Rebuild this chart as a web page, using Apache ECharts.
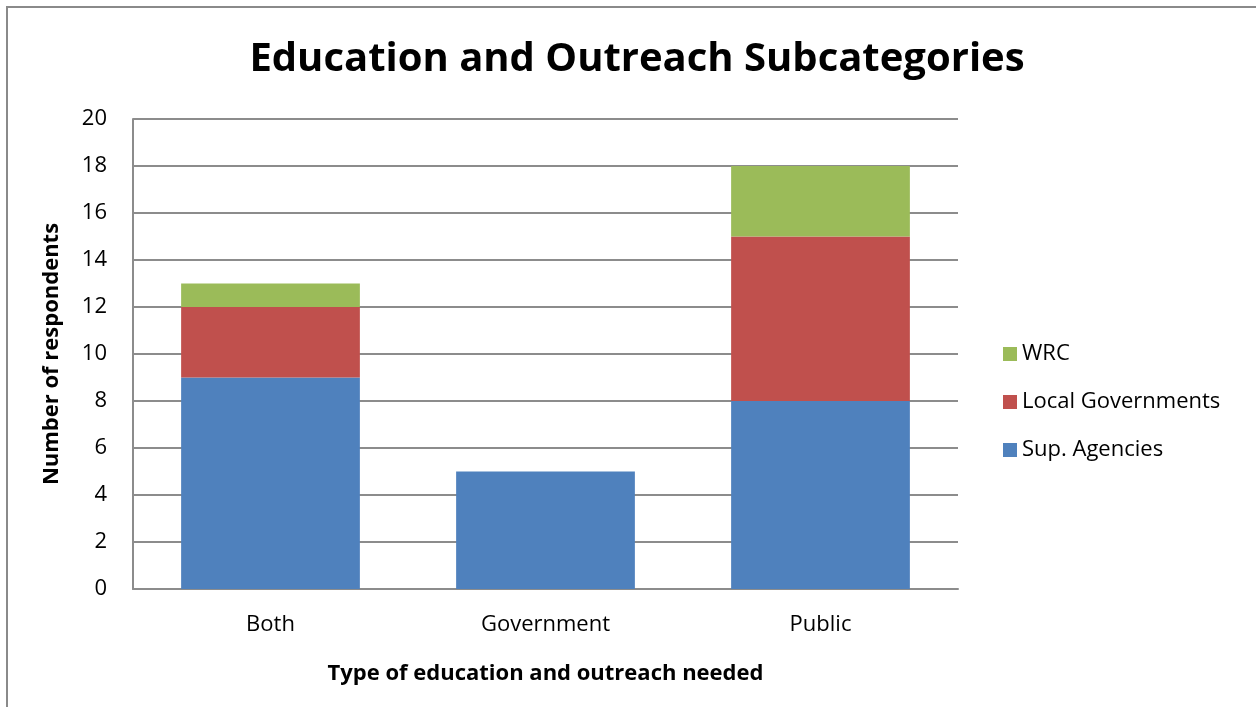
<!DOCTYPE html>
<html>
<head>
<meta charset="utf-8">
<script src="https://cdn.jsdelivr.net/npm/echarts@6/dist/echarts.min.js"></script>
<style>
  html, body { margin: 0; padding: 0; background: #fff; }
  #chart { width: 1256px; height: 707px; }
</style>
</head>
<body>
<div id="chart"></div>
<script>
// Survey responses by type of education / outreach needed
const categories = ['Both', 'Government', 'Public'];
const supAgencies = [9, 5, 8];
const localGovernments = [3, 0, 7];
const wrc = [1, 0, 3];
const legendOrder = ['WRC', 'Local Governments', 'Sup. Agencies'];

const FONT = '"Open Sans", Lato, sans-serif';

const chart = echarts.init(document.getElementById('chart'));
chart.setOption({
  animation: false,
  backgroundColor: '#fff',
  title: {
    text: 'Education and Outreach Subcategories',
    left: 632,
    textAlign: 'center',
    top: 35,
    textStyle: { fontFamily: FONT, fontSize: 40, fontWeight: 'bold', color: '#000' }
  },
  graphic: [{
    type: 'rect',
    shape: { x: 7, y: 7, width: 1300, height: 800 },
    style: { fill: 'none', stroke: '#8a8a8a', lineWidth: 2 },
    silent: true
  }],
  legend: {
    data: legendOrder,
    orient: 'vertical',
    left: 998,
    top: 338,
    itemWidth: 14,
    itemHeight: 14,
    itemGap: 26,
    icon: 'rect',
    textStyle: { fontFamily: FONT, fontSize: 22, color: '#000' }
  },
  grid: { left: 133, right: 298, top: 119, bottom: 118 },
  xAxis: {
    type: 'category',
    data: categories,
    name: 'Type of education and outreach needed',
    nameLocation: 'middle',
    nameGap: 74,
    nameTextStyle: { fontFamily: FONT, fontSize: 22, fontWeight: 'bold', color: '#000' },
    axisLine: { lineStyle: { color: '#8c8c8c', width: 2 } },
    axisTick: { show: false },
    axisLabel: { fontFamily: FONT, fontSize: 22, color: '#000', margin: 25 }
  },
  yAxis: {
    type: 'value',
    min: 0,
    max: 20,
    interval: 2,
    name: 'Number of respondents',
    nameLocation: 'middle',
    nameGap: 70,
    nameTextStyle: { fontFamily: FONT, fontSize: 22, fontWeight: 'bold', color: '#000' },
    axisLine: { show: true, lineStyle: { color: '#8c8c8c', width: 2 } },
    axisTick: { show: false },
    splitLine: { lineStyle: { color: '#8c8c8c', width: 2 } },
    axisLabel: { fontFamily: FONT, fontSize: 22, color: '#000', margin: 26 }
  },
  series: [
    { name: 'Sup. Agencies', type: 'bar', stack: 'total', data: supAgencies, barCategoryGap: '35%', itemStyle: { color: '#4F81BD' } },
    { name: 'Local Governments', type: 'bar', stack: 'total', data: localGovernments, itemStyle: { color: '#C0504D' } },
    { name: 'WRC', type: 'bar', stack: 'total', data: wrc, itemStyle: { color: '#9BBB59' } }
  ]
});
</script>
</body>
</html>
